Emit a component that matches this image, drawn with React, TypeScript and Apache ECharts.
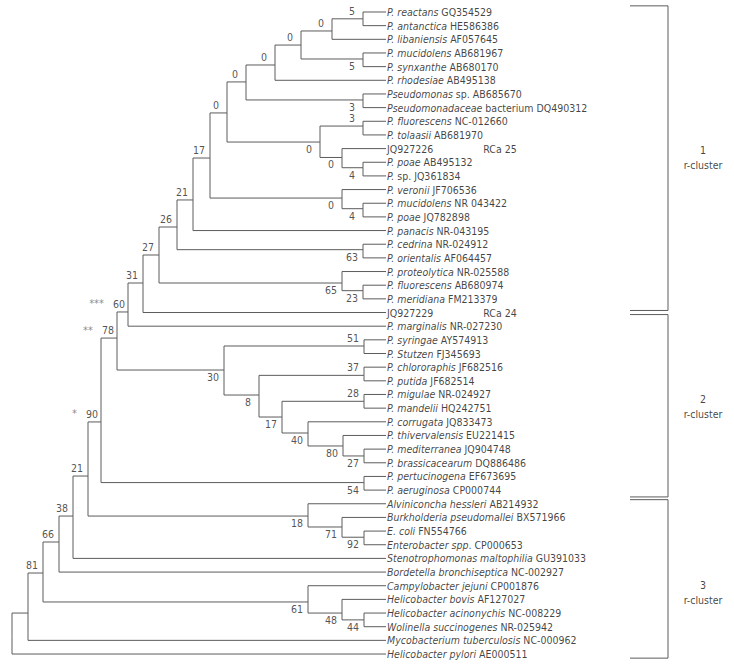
import React, { useEffect, useRef } from "react";
import * as echarts from "echarts";

// ---------- DATA ----------
// Leaf labels: text between underscores is italic, "~" marks a wide gap.
const leafNames = [
  "_P. reactans_ GQ354529",
  "_P. antanctica_ HE586386",
  "_P. libaniensis_ AF057645",
  "_P. mucidolens_ AB681967",
  "_P. synxanthe_ AB680170",
  "_P. rhodesiae_ AB495138",
  "_Pseudomonas_ sp. AB685670",
  "_Pseudomonadaceae_ bacterium DQ490312",
  "_P. fluorescens_ NC-012660",
  "_P. tolaasii_ AB681970",
  "JQ927226~RCa 25",
  "_P. poae_ AB495132",
  "_P._ sp. JQ361834",
  "_P. veronii_ JF706536",
  "_P. mucidolens_ NR 043422",
  "_P. poae_ JQ782898",
  "_P. panacis_ NR-043195",
  "_P. cedrina_ NR-024912",
  "_P. orientalis_ AF064457",
  "_P. proteolytica_ NR-025588",
  "_P. fluorescens_ AB680974",
  "_P. meridiana_ FM213379",
  "JQ927229~RCa 24",
  "_P. marginalis_ NR-027230",
  "_P. syringae_ AY574913",
  "_P. Stutzen_ FJ345693",
  "_P. chlororaphis_ JF682516",
  "_P. putida_ JF682514",
  "_P. migulae_ NR-024927",
  "_P. mandelii_ HQ242751",
  "_P. corrugata_ JQ833473",
  "_P. thivervalensis_ EU221415",
  "_P. mediterranea_ JQ904748",
  "_P. brassicacearum_ DQ886486",
  "_P. pertucinogena_ EF673695",
  "_P. aeruginosa_ CP000744",
  "_Alviniconcha hessleri_ AB214932",
  "_Burkholderia pseudomallei_ BX571966",
  "_E. coli_ FN554766",
  "_Enterobacter spp_. CP000653",
  "_Stenotrophomonas maltophilia_ GU391033",
  "_Bordetella bronchiseptica_ NC-002927",
  "_Campylobacter jejuni_ CP001876",
  "_Helicobacter bovis_ AF127027",
  "_Helicobacter acinonychis_ NC-008229",
  "_Wolinella succinogenes_ NR-025942",
  "_Mycobacterium tuberculosis_ NC-000962",
  "_Helicobacter pylori_ AE000511",
];

// depth of every leaf tip (distance from the root)
const leafDepth = 374;

// internal nodes: children, depth from root, vertical position (leaf-row units), bootstrap
const nodeIds = [
  "n1", "n2", "n3", "n4", "n5", "n6", "n7", "n8", "n9", "n10",
  "n11", "n12", "n13", "n14", "n15", "n16", "n17", "n18", "n19", "n20",
  "n21", "n22", "n23", "n24", "n25", "n26", "n27", "n28", "n29", "n30",
  "n31", "n32", "n33", "n34", "n35", "n36", "n37", "n38", "n39", "n40",
  "n41", "n42", "n43", "n44", "n45", "n46", "root",
];
const nodeChildren = [
  ["L0", "L1"], ["n1", "L2"], ["L3", "L4"], ["n2", "n3"], ["n4", "L5"],
  ["L6", "L7"], ["n5", "n6"], ["L8", "L9"], ["L11", "L12"], ["L10", "n9"],
  ["n8", "n10"], ["n7", "n11"], ["L14", "L15"], ["L13", "n13"], ["n12", "n14"],
  ["n15", "L16"], ["L17", "L18"], ["n16", "n17"], ["L20", "L21"], ["L19", "n19"],
  ["n18", "n20"], ["n21", "L22"], ["n22", "L23"], ["L24", "L25"], ["L26", "L27"],
  ["L28", "L29"], ["L32", "L33"], ["L31", "n27"], ["L30", "n28"], ["n26", "n29"],
  ["n25", "n30"], ["n24", "n31"], ["n23", "n32"], ["L34", "L35"], ["n33", "n34"],
  ["L38", "L39"], ["L37", "n36"], ["L36", "n37"], ["n35", "n38"], ["n39", "L40"],
  ["n40", "L41"], ["L44", "L45"], ["L43", "n42"], ["L42", "n43"], ["n41", "n44"],
  ["n45", "L46"], ["n46", "L47"],
];
const nodeDepth = [
  351, 320, 351, 289, 263, 351, 234, 351, 351, 330,
  308, 215, 351, 330, 198, 181, 351, 165, 351, 330,
  147, 131, 116, 352, 352, 352, 352, 331, 296, 270,
  247, 212, 105, 352, 89, 352, 330, 296, 76, 61,
  47, 352, 330, 296, 31, 16, 0,
];
const nodePos = [
  0.5, 1.39, 3.44, 2.42, 3.88, 6.44, 5.12, 8.35, 11.4, 10.65,
  9.52, 7.39, 14.4, 13.62, 10.69, 13.76, 17.4, 15.74, 20.4, 19.84,
  17.79, 19.84, 21.96, 24.45, 26.6, 28.5, 32.5, 31.77, 30.82, 29.65,
  28.04, 26.21, 23.87, 34.45, 30.01, 38.45, 37.7, 36.9, 33.97, 36.9,
  38.8, 44.5, 44.0, 43.19, 41.07, 44.0, 45.7,
];
const nodeSupport = [
  "5", "0", "5", "0", "0", "3", "0", "3", "4", "0",
  "0", "0", "4", "0", "17", "21", "63", "26", "23", "65",
  "27", "31", "60", "51", "37", "28", "27", "80", "40", "17",
  "8", "30", "78", "54", "90", "92", "71", "18", "21", "38",
  "66", "44", "48", "61", "81", "", "",
];
// "t" = label above the branch, "b" = below
const nodeLabelSide = [
  "t", "t", "b", "t", "t", "b", "t", "t", "b", "b",
  "b", "t", "b", "b", "t", "t", "b", "t", "b", "b",
  "t", "t", "t", "t", "t", "t", "b", "b", "b", "b",
  "b", "b", "t", "b", "t", "b", "b", "b", "t", "t",
  "t", "b", "b", "b", "t", "", "",
];
const nodeStars = { n23: "***", n33: "**", n35: "*" } as Record<string, string>;

// clusters on the right (bracket extents and label centres in leaf-row units)
const clusterNames = ["1", "2", "3"];
const clusterTop = [-0.45, 22.15, 35.7];
const clusterBottom = [21.85, 35.5, 47.3];
const clusterLabelPos = [10.65, 28.88, 42.53];

// ---------- STYLE ----------
const FONT = "'DejaVu Sans Condensed', 'DejaVu Sans', sans-serif";
const LINE = "#5c5c5c";
const TEXT = "#111111";
const BRACKET_X0 = 618;
const BRACKET_X1 = 656;
const CLUSTER_LABEL_X = 691;

function toRich(name: string): string {
  const parts = name.split("_");
  let out = "";
  parts.forEach((p, k) => {
    if (!p) return;
    const style = k % 2 === 1 ? "i" : "r";
    const pieces = p.split("~");
    pieces.forEach((q, j) => {
      if (j > 0) out += "{gap| }";
      if (q) out += `{${style}|${q}}`;
    });
  });
  return out;
}

export default function App() {
  const ref = useRef<HTMLDivElement>(null);
  useEffect(() => {
    document.body.style.margin = "0";
    const chart = echarts.init(ref.current!, null, { renderer: "svg" });

    const pos: Record<string, [number, number]> = {};
    leafNames.forEach((_, i) => (pos["L" + i] = [leafDepth, i]));
    nodeIds.forEach((id, k) => (pos[id] = [nodeDepth[k], nodePos[k]]));

    const edges: any[] = [];
    nodeIds.forEach((id, k) => {
      nodeChildren[k].forEach((c) => {
        const [pd, pp] = pos[id];
        const [cd, cp] = pos[c];
        edges.push({ coords: [[pd, pp], [pd, cp], [cd, cp]] });
      });
    });

    const brackets = clusterNames.map((_, k) => ({
      coords: [
        [BRACKET_X0, clusterTop[k]],
        [BRACKET_X1, clusterTop[k]],
        [BRACKET_X1, clusterBottom[k]],
        [BRACKET_X0, clusterBottom[k]],
      ],
    }));

    const supportData: any[] = [];
    nodeIds.forEach((id, k) => {
      if (!nodeSupport[k]) return;
      const stars = nodeStars[id];
      const dy = nodeLabelSide[k] === "t" ? -8 : 7;
      if (stars) {
        supportData.push({
          value: [nodeDepth[k], nodePos[k]],
          label: {
            formatter: `{s|${stars}}{sp| }{n|${nodeSupport[k]}}`,
            align: "right",
            offset: [-3, dy],
          },
        });
      } else {
        supportData.push({
          value: [nodeDepth[k], nodePos[k]],
          label: { formatter: nodeSupport[k], offset: [-11, dy] },
        });
      }
    });

    const richBase = { fontFamily: FONT, fontSize: 10.5, color: TEXT };
    const numBase = { fontFamily: FONT, fontSize: 10.5, color: "#262626" };

    const option: any = {
      animation: false,
      grid: { left: 0, right: 0, top: 0, bottom: 0 },
      xAxis: { type: "value", min: -12, max: 722, show: false },
      yAxis: { type: "value", inverse: true, min: -0.878, max: 47.73, show: false },
      series: [
        {
          type: "lines",
          coordinateSystem: "cartesian2d",
          polyline: true,
          silent: true,
          lineStyle: { color: LINE, width: 1, opacity: 1 },
          data: edges,
        },
        {
          type: "lines",
          coordinateSystem: "cartesian2d",
          polyline: true,
          silent: true,
          lineStyle: { color: LINE, width: 1, opacity: 1 },
          data: brackets,
        },
        {
          type: "scatter",
          symbolSize: 0,
          silent: true,
          data: leafNames.map((n, i) => ({
            value: [leafDepth, i],
            label: { formatter: toRich(n) },
          })),
          label: {
            show: true,
            position: "right",
            distance: 1,
            ...richBase,
            rich: {
              i: { ...richBase, fontStyle: "italic" },
              r: { ...richBase },
              gap: { ...richBase, width: 50 },
            },
          },
        },
        {
          type: "scatter",
          symbolSize: 0,
          silent: true,
          data: supportData,
          label: {
            show: true,
            position: "inside",
            align: "center",
            verticalAlign: "middle",
            ...numBase,
            rich: {
              s: { ...numBase, color: "#6e6e6e", fontSize: 11 },
              sp: { ...numBase, width: 9 },
              n: { ...numBase },
            },
          },
        },
        {
          type: "scatter",
          symbolSize: 0,
          silent: true,
          data: clusterNames.map((c, k) => ({
            value: [CLUSTER_LABEL_X, clusterLabelPos[k]],
            label: { formatter: `${c}\nr-cluster` },
          })),
          label: {
            show: true,
            position: "inside",
            align: "center",
            verticalAlign: "middle",
            fontFamily: FONT,
            fontSize: 10.5,
            lineHeight: 15,
            color: TEXT,
          },
        },
      ],
    };
    chart.setOption(option);
    return () => chart.dispose();
  }, []);
  return <div ref={ref} style={{ width: 734, height: 664 }} />;
}
